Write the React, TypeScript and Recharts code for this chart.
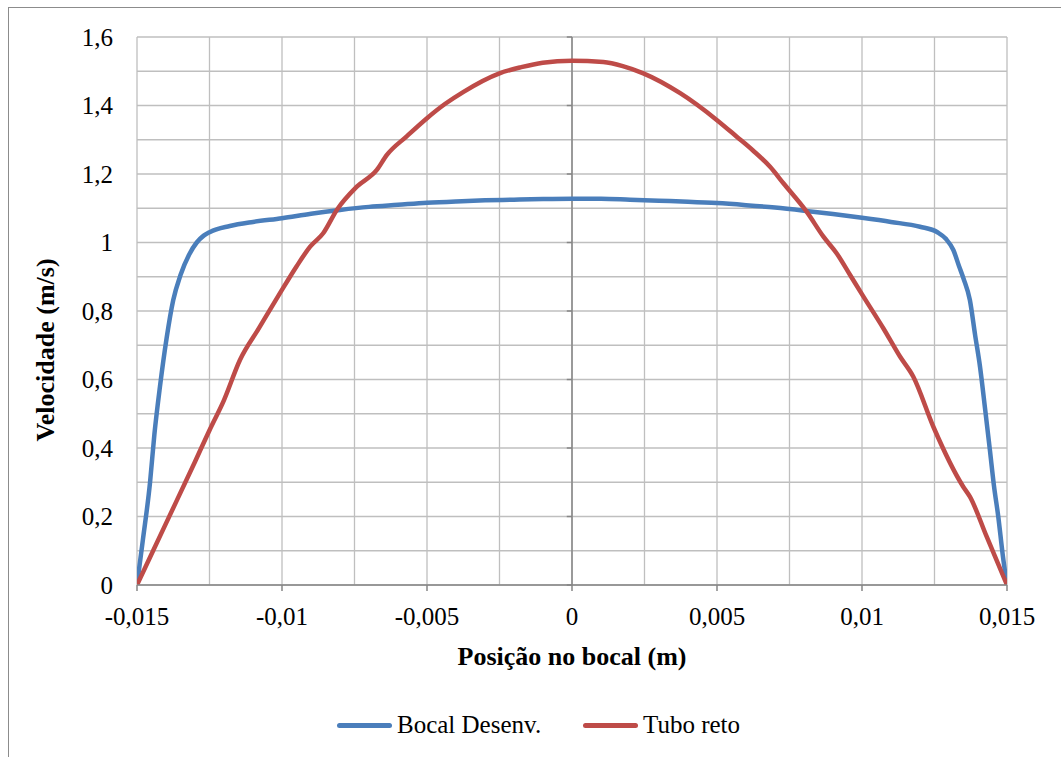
import React from 'react';
import { LineChart, Line, XAxis, YAxis, CartesianGrid, ReferenceLine } from 'recharts';

// Posição (m) e velocidade (m/s)
const bocalPos = [
  -0.015, -0.0148, -0.01455, -0.0144, -0.01421, -0.01398, -0.01375, -0.0135, -0.0132, -0.01294,
  -0.0127, -0.01248, -0.0118, -0.011, -0.01, -0.009, -0.008, -0.007, -0.006, -0.005,
  -0.004, -0.003, -0.002, -0.001, 0, 0.001, 0.002, 0.003, 0.004, 0.005,
  0.006, 0.007, 0.008, 0.009, 0.01, 0.011, 0.012, 0.0126, 0.0129, 0.01315,
  0.01335, 0.0135, 0.01372, 0.0139, 0.01407, 0.01425, 0.01441, 0.01455, 0.0147, 0.01485, 0.015,
];
const bocalVel = [
  0, 0.13, 0.3, 0.44, 0.578, 0.72, 0.832, 0.905, 0.965, 1.0,
  1.02, 1.031, 1.048, 1.06, 1.071, 1.084, 1.095, 1.104, 1.11, 1.116,
  1.12, 1.123, 1.125, 1.127, 1.128, 1.128, 1.125, 1.122, 1.119, 1.115,
  1.109, 1.102, 1.093, 1.083, 1.072, 1.06, 1.046, 1.03, 1.01, 0.978,
  0.93, 0.895, 0.832, 0.73, 0.637, 0.51, 0.394, 0.29, 0.199, 0.09, 0,
];

const tuboPos = [
  -0.015, -0.014, -0.013, -0.0125, -0.012, -0.01145, -0.0108, -0.01007, -0.0095, -0.00903,
  -0.00858, -0.00811, -0.00742, -0.00673, -0.00639, -0.0057, -0.005, -0.00437, -0.00374, -0.0025,
  -0.00175, -0.00101, 0, 0.00108, 0.00175, 0.00246, 0.00373, 0.00499, 0.00568, 0.00625,
  0.00683, 0.00729, 0.00809, 0.00867, 0.00913, 0.00959, 0.01005, 0.01074, 0.01131, 0.01177,
  0.01246, 0.01349, 0.01372, 0.0143, 0.015,
];
const tuboVel = [
  0, 0.18, 0.36, 0.452, 0.54, 0.657, 0.749, 0.852, 0.93, 0.988,
  1.027, 1.095, 1.163, 1.212, 1.255, 1.31, 1.363, 1.405, 1.44, 1.494,
  1.512, 1.525, 1.531, 1.527, 1.515, 1.494, 1.436, 1.358, 1.309, 1.268,
  1.221, 1.173, 1.09, 1.017, 0.968, 0.905, 0.842, 0.749, 0.667, 0.608,
  0.462, 0.287, 0.258, 0.141, 0,
];

const seriesNames = ['Bocal Desenv.', 'Tubo reto'];

const xTicks = [-0.015, -0.0125, -0.01, -0.0075, -0.005, -0.0025, 0, 0.0025, 0.005, 0.0075, 0.01, 0.0125, 0.015];
const yTicks = [0, 0.1, 0.2, 0.3, 0.4, 0.5, 0.6, 0.7, 0.8, 0.9, 1, 1.1, 1.2, 1.3, 1.4, 1.5, 1.6];
const yMajor = [0, 0.2, 0.4, 0.6, 0.8, 1, 1.2, 1.4, 1.6];

const BLUE = '#4A7EBB';
const RED = '#BE4B48';
const FONT = "'Liberation Serif', 'DejaVu Serif', serif";

const bocalData = bocalPos.map((x, i) => ({ x, v: bocalVel[i] }));
const tuboData = tuboPos.map((x, i) => ({ x, v: tuboVel[i] }));

const fmt = (v: number) => String(Math.round(v * 10000) / 10000).replace('.', ',');
const isMajor = (v: number, step: number) => Math.abs(Math.round(v / step) * step - v) < 1e-9;

const XTick = ({ x, y, payload }: any) => {
  if (!isMajor(payload.value, 0.005)) return <g />;
  return (
    <g>
      <line x1={x} y1={y} x2={x} y2={y + 6} stroke="#868686" strokeWidth={1.5} />
      <text x={x} y={y + 40} textAnchor="middle" style={{ fontSize: 25, fontFamily: FONT }} fill="#000">
        {fmt(payload.value)}
      </text>
    </g>
  );
};

const YTick = ({ x, y, payload }: any) => {
  if (!isMajor(payload.value, 0.2)) return <g />;
  return (
    <text x={x - 24} y={y + 8.5} textAnchor="end" style={{ fontSize: 25, fontFamily: FONT }} fill="#000">
      {fmt(payload.value)}
    </text>
  );
};

const YTitle = ({ viewBox }: any) => {
  const cx = viewBox.x + 18;
  const cy = viewBox.y + viewBox.height / 2 + 39;
  return (
    <text
      x={cx}
      y={cy}
      transform={`rotate(-90 ${cx} ${cy})`}
      textAnchor="middle"
      dominantBaseline="central"
      style={{ fontSize: 26, fontWeight: 'bold', fontFamily: FONT }}
      fill="#000"
    >
      Velocidade (m/s)
    </text>
  );
};

const XTitle = ({ viewBox }: any) => {
  const cx = viewBox.x + viewBox.width / 2;
  return (
    <text
      x={cx}
      y={viewBox.y + 80}
      textAnchor="middle"
      style={{ fontSize: 26, fontWeight: 'bold', fontFamily: FONT }}
      fill="#000"
    >
      Posição no bocal (m)
    </text>
  );
};

const LegendItem = ({ color, name, left }: { color: string; name: string; left: number }) => (
  <div style={{ position: 'absolute', left, top: 708, display: 'flex', alignItems: 'center', height: 34 }}>
    <div style={{ width: 55, height: 5, borderRadius: 3, background: color, marginRight: 5 }} />
    <span style={{ fontSize: 25, fontFamily: FONT, color: '#000' }}>{name}</span>
  </div>
);

export default function App() {
  return (
    <div
      style={{
        position: 'absolute',
        left: 0,
        top: 0,
        width: 1061,
        height: 757,
        overflow: 'hidden',
        background: '#fff',
        fontFamily: FONT,
      }}
    >
      <div
        style={{
          position: 'absolute',
          left: 8,
          top: 7,
          width: 1100,
          height: 800,
          borderLeft: '1.5px solid #8c8c8c',
          borderTop: '1.5px solid #8c8c8c',
        }}
      />
      <div style={{ position: 'absolute', left: 0, top: 0 }}>
        <LineChart width={1061} height={757} margin={{ top: 37, right: 54, left: 27, bottom: 112 }}>
          <CartesianGrid stroke="#BFBFBF" strokeWidth={1.3} />
          <XAxis
            type="number"
            dataKey="x"
            domain={[-0.015, 0.015]}
            ticks={xTicks}
            interval={0}
            height={60}
            tickSize={0}
            tickMargin={0}
            tickLine={false}
            axisLine={{ stroke: '#868686', strokeWidth: 1.5 }}
            tick={<XTick />}
            label={<XTitle />}
            allowDataOverflow
          />
          <YAxis
            type="number"
            domain={[0, 1.6]}
            ticks={yTicks}
            interval={0}
            width={110}
            tickSize={0}
            tickMargin={0}
            tickLine={false}
            axisLine={false}
            tick={<YTick />}
            label={<YTitle />}
            allowDataOverflow
          />
          <ReferenceLine x={0} stroke="#868686" strokeWidth={1.5} />
          {yMajor.map((v) => (
            <ReferenceLine
              key={v}
              segment={[
                { x: -0.00018, y: v },
                { x: 0, y: v },
              ]}
              stroke="#868686"
              strokeWidth={1.5}
            />
          ))}
          <Line
            data={bocalData}
            dataKey="v"
            name={seriesNames[0]}
            type="monotone"
            stroke={BLUE}
            strokeWidth={4.5}
            dot={false}
            isAnimationActive={false}
          />
          <Line
            data={tuboData}
            dataKey="v"
            name={seriesNames[1]}
            type="monotone"
            stroke={RED}
            strokeWidth={4.5}
            dot={false}
            isAnimationActive={false}
          />
        </LineChart>
      </div>
      <LegendItem color={BLUE} name={seriesNames[0]} left={337} />
      <LegendItem color={RED} name={seriesNames[1]} left={583} />
    </div>
  );
}
